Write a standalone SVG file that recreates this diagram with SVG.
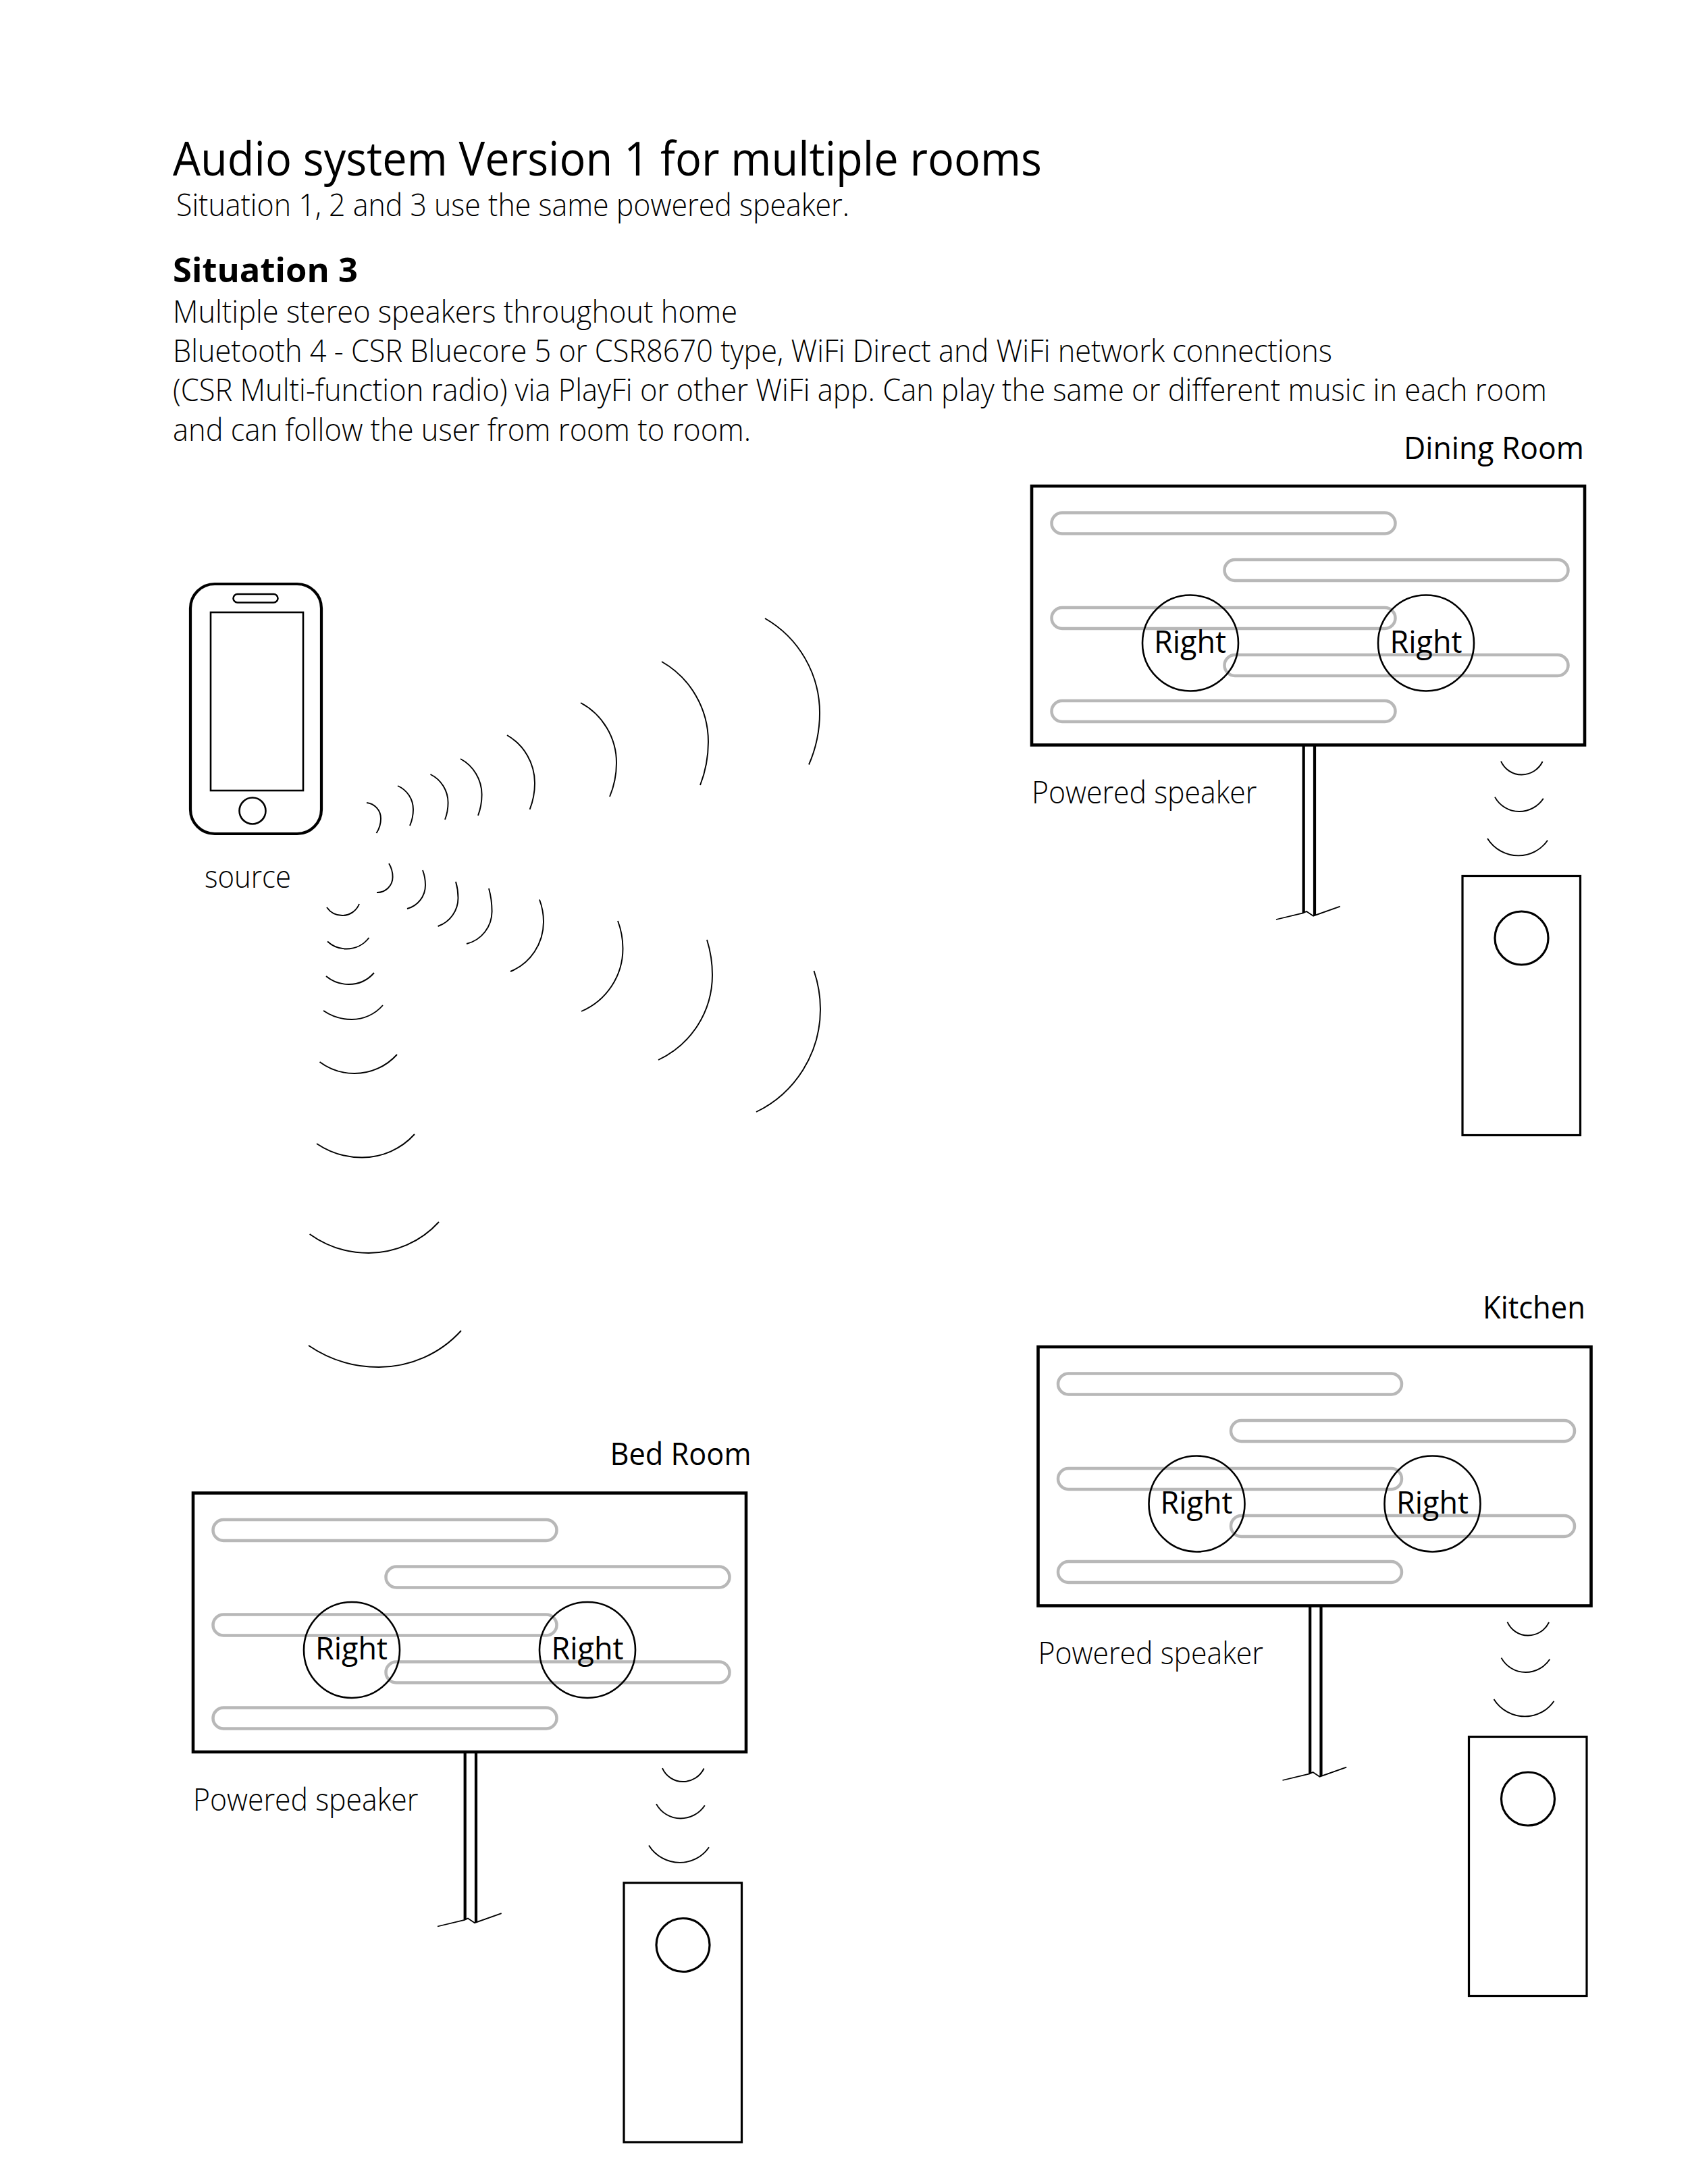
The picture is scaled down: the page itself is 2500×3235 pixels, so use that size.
<svg xmlns="http://www.w3.org/2000/svg" width="2500" height="3235" viewBox="0 0 2500 3235">
<style>
text{font-family:"Open Sans","Noto Sans","Liberation Sans",sans-serif;fill:#000}
.l{font-weight:300;font-size:46px}
.t{font-weight:400;font-size:70px}
.b{font-weight:700;font-size:50px}
.n{font-weight:400;font-size:46px}
.w{fill:none;stroke:#000;stroke-width:1.9}
.panel{fill:none;stroke:#000;stroke-width:4.6}
.pill{fill:none;stroke:#b8b8b8;stroke-width:4.5}
.c{fill:none;stroke:#000;stroke-width:2.6}
.k{fill:none;stroke:#000;stroke-width:4.2}
.s{fill:none;stroke:#000;stroke-width:3.2}
.g{fill:none;stroke:#000;stroke-width:1.8}
</style>
<rect width="2500" height="3235" fill="#fff"/>
<g id="header">
<text class="t" x="256" y="260" textLength="1287" lengthAdjust="spacingAndGlyphs">Audio system Version 1 for multiple rooms</text>
<text class="l" x="261" y="320" textLength="997" lengthAdjust="spacingAndGlyphs">Situation 1, 2 and 3 use the same powered speaker.</text>
<text class="b" x="256" y="418" textLength="274" lengthAdjust="spacingAndGlyphs">Situation 3</text>
<text class="l" x="256" y="478" textLength="836" lengthAdjust="spacingAndGlyphs">Multiple stereo speakers throughout home</text>
<text class="l" x="256" y="536" textLength="1717" lengthAdjust="spacingAndGlyphs">Bluetooth 4 - CSR Bluecore 5 or CSR8670 type, WiFi Direct and WiFi network connections</text>
<text class="l" x="256" y="594" textLength="2035" lengthAdjust="spacingAndGlyphs">(CSR Multi-function radio) via PlayFi or other WiFi app. Can play the same or different music in each room</text>
<text class="l" x="256" y="652.5" textLength="856" lengthAdjust="spacingAndGlyphs">and can follow the user from room to room.</text>
</g>
<g id="source">
<rect x="282" y="865" width="194" height="370" rx="36" ry="36" class="k"/>
<rect x="312" y="907" width="137" height="264" class="c"/>
<rect x="345.500" y="880" width="66" height="12.500" rx="6.250" class="c"/>
<circle cx="374" cy="1201" r="19.500" class="c"/>
<text class="l" x="303" y="1314.500" textLength="128" lengthAdjust="spacingAndGlyphs">source</text>
</g>
<g id="connectors">
<path class="w" d="M543 1189A23.600 23.600 0 0 1 564 1212.500A38.800 38.800 0 0 1 557.500 1234"/>
<path class="w" d="M589 1164A38.100 38.100 0 0 1 612 1199A60 60 0 0 1 607 1223"/>
<path class="w" d="M637.500 1147A46.800 46.800 0 0 1 663.600 1189A70 70 0 0 1 659 1214"/>
<path class="w" d="M682 1124A60.300 60.300 0 0 1 713.600 1177A88.600 88.600 0 0 1 708 1208"/>
<path class="w" d="M751 1089A82 82 0 0 1 792 1160A106 106 0 0 1 784.600 1199"/>
<path class="w" d="M860 1041A101 101 0 0 1 913 1130A130 130 0 0 1 903 1180"/>
<path class="w" d="M980 980A137 137 0 0 1 1049 1099A177 177 0 0 1 1037 1163"/>
<path class="w" d="M1133 916A161.500 161.500 0 0 1 1214 1056A191 191 0 0 1 1198 1132.500"/>
<path class="w" d="M576 1279A38.500 38.500 0 0 1 581.600 1299A23 23 0 0 1 558 1322"/>
<path class="w" d="M626 1289A62 62 0 0 1 630 1311A36 36 0 0 1 603 1346"/>
<path class="w" d="M675 1306A84 84 0 0 1 678.500 1330A44.400 44.400 0 0 1 648.600 1372"/>
<path class="w" d="M724 1316A128 128 0 0 1 728.600 1350A49.400 49.400 0 0 1 691 1398"/>
<path class="w" d="M799 1332.500A94 94 0 0 1 805 1365.500A79.600 79.600 0 0 1 756 1439"/>
<path class="w" d="M915 1364A116 116 0 0 1 922.500 1405A101 101 0 0 1 861 1498"/>
<path class="w" d="M1047 1392A173 173 0 0 1 1055 1444A139 139 0 0 1 975 1570"/>
<path class="w" d="M1205.500 1438A176 176 0 0 1 1215 1495A169 169 0 0 1 1120 1647"/>
<path class="w" d="M484 1344A28 28 0 0 0 507 1356A26.900 26.900 0 0 0 532 1339"/>
<path class="w" d="M485 1394.500A41 41 0 0 0 513 1405.500A42 42 0 0 0 546.500 1389"/>
<path class="w" d="M483 1446A52.800 52.800 0 0 0 516.500 1458A49.900 49.900 0 0 0 554 1441"/>
<path class="w" d="M479 1497A74 74 0 0 0 521 1510A60.900 60.900 0 0 0 567 1489"/>
<path class="w" d="M473.500 1573A86.500 86.500 0 0 0 525 1590A84.900 84.900 0 0 0 588 1562"/>
<path class="w" d="M469 1694A120 120 0 0 0 536 1714.500A105 105 0 0 0 614 1680"/>
<path class="w" d="M458.600 1828A150 150 0 0 0 546 1856A141 141 0 0 0 650 1810"/>
<path class="w" d="M457 1993A185 185 0 0 0 561 2025A165 165 0 0 0 683 1971"/>
</g>
<g id="dining-room">
<text class="n" x="2079" y="680" textLength="267" lengthAdjust="spacingAndGlyphs">Dining Room</text>
<rect class="panel" x="1528" y="720" width="819" height="383.500"/>
<rect class="pill" x="1557.500" y="759.500" width="509" height="31" rx="15.500"/>
<rect class="pill" x="1813.500" y="829" width="509" height="31" rx="15.500"/>
<rect class="pill" x="1557.500" y="900" width="509" height="31" rx="15.500"/>
<rect class="pill" x="1813.500" y="970" width="509" height="31" rx="15.500"/>
<rect class="pill" x="1557.500" y="1038" width="509" height="31" rx="15.500"/>
<circle class="c" cx="1763" cy="952.500" r="71"/>
<circle class="c" cx="2112" cy="952.500" r="71"/>
<text class="n" x="1709" y="966.500" textLength="107" lengthAdjust="spacingAndGlyphs">Right</text>
<text class="n" x="2058.500" y="966.500" textLength="107" lengthAdjust="spacingAndGlyphs">Right</text>
<text class="l" x="1528" y="1190" textLength="333.500" lengthAdjust="spacingAndGlyphs">Powered speaker</text>
<path class="k" d="M1930.700 1104V1352M1947 1104V1356"/>
<path class="g" d="M1890 1362L1930 1352.300L1935 1350L1945 1356.700L1984.700 1342.700"/>
<rect class="s" x="2166" y="1297.500" width="174.500" height="384"/>
<circle class="s" cx="2253.500" cy="1389.500" r="39.500"/>
<path class="w" d="M2223 1127.600A33.300 33.300 0 0 0 2253.500 1147.500A34.400 34.400 0 0 0 2284.600 1128"/>
<path class="w" d="M2214 1180.600A41 41 0 0 0 2250 1202A42.800 42.800 0 0 0 2285.800 1182.700"/>
<path class="w" d="M2203 1242A54 54 0 0 0 2249 1267.400A52 52 0 0 0 2292 1244.700"/>
</g>
<g id="kitchen" transform="translate(9.500 1275)">
<text class="n" x="2186.500" y="677.500" textLength="152" lengthAdjust="spacingAndGlyphs">Kitchen</text>
<rect class="panel" x="1528" y="720" width="819" height="383.500"/>
<rect class="pill" x="1557.500" y="759.500" width="509" height="31" rx="15.500"/>
<rect class="pill" x="1813.500" y="829" width="509" height="31" rx="15.500"/>
<rect class="pill" x="1557.500" y="900" width="509" height="31" rx="15.500"/>
<rect class="pill" x="1813.500" y="970" width="509" height="31" rx="15.500"/>
<rect class="pill" x="1557.500" y="1038" width="509" height="31" rx="15.500"/>
<circle class="c" cx="1763" cy="952.500" r="71"/>
<circle class="c" cx="2112" cy="952.500" r="71"/>
<text class="n" x="1709" y="966.500" textLength="107" lengthAdjust="spacingAndGlyphs">Right</text>
<text class="n" x="2058.500" y="966.500" textLength="107" lengthAdjust="spacingAndGlyphs">Right</text>
<text class="l" x="1528" y="1190" textLength="333.500" lengthAdjust="spacingAndGlyphs">Powered speaker</text>
<path class="k" d="M1930.700 1104V1352M1947 1104V1356"/>
<path class="g" d="M1890 1362L1930 1352.300L1935 1350L1945 1356.700L1984.700 1342.700"/>
<rect class="s" x="2166" y="1297.500" width="174.500" height="384"/>
<circle class="s" cx="2253.500" cy="1389.500" r="39.500"/>
<path class="w" d="M2223 1127.600A33.300 33.300 0 0 0 2253.500 1147.500A34.400 34.400 0 0 0 2284.600 1128"/>
<path class="w" d="M2214 1180.600A41 41 0 0 0 2250 1202A42.800 42.800 0 0 0 2285.800 1182.700"/>
<path class="w" d="M2203 1242A54 54 0 0 0 2249 1267.400A52 52 0 0 0 2292 1244.700"/>
</g>
<g id="bed-room" transform="translate(-1242 1491.500)">
<text class="n" x="2145.500" y="678" textLength="209" lengthAdjust="spacingAndGlyphs">Bed Room</text>
<rect class="panel" x="1528" y="720" width="819" height="383.500"/>
<rect class="pill" x="1557.500" y="759.500" width="509" height="31" rx="15.500"/>
<rect class="pill" x="1813.500" y="829" width="509" height="31" rx="15.500"/>
<rect class="pill" x="1557.500" y="900" width="509" height="31" rx="15.500"/>
<rect class="pill" x="1813.500" y="970" width="509" height="31" rx="15.500"/>
<rect class="pill" x="1557.500" y="1038" width="509" height="31" rx="15.500"/>
<circle class="c" cx="1763" cy="952.500" r="71"/>
<circle class="c" cx="2112" cy="952.500" r="71"/>
<text class="n" x="1709" y="966.500" textLength="107" lengthAdjust="spacingAndGlyphs">Right</text>
<text class="n" x="2058.500" y="966.500" textLength="107" lengthAdjust="spacingAndGlyphs">Right</text>
<text class="l" x="1528" y="1190" textLength="333.500" lengthAdjust="spacingAndGlyphs">Powered speaker</text>
<path class="k" d="M1930.700 1104V1352M1947 1104V1356"/>
<path class="g" d="M1890 1362L1930 1352.300L1935 1350L1945 1356.700L1984.700 1342.700"/>
<rect class="s" x="2166" y="1297.500" width="174.500" height="384"/>
<circle class="s" cx="2253.500" cy="1389.500" r="39.500"/>
<path class="w" d="M2223 1127.600A33.300 33.300 0 0 0 2253.500 1147.500A34.400 34.400 0 0 0 2284.600 1128"/>
<path class="w" d="M2214 1180.600A41 41 0 0 0 2250 1202A42.800 42.800 0 0 0 2285.800 1182.700"/>
<path class="w" d="M2203 1242A54 54 0 0 0 2249 1267.400A52 52 0 0 0 2292 1244.700"/>
</g>
</svg>
